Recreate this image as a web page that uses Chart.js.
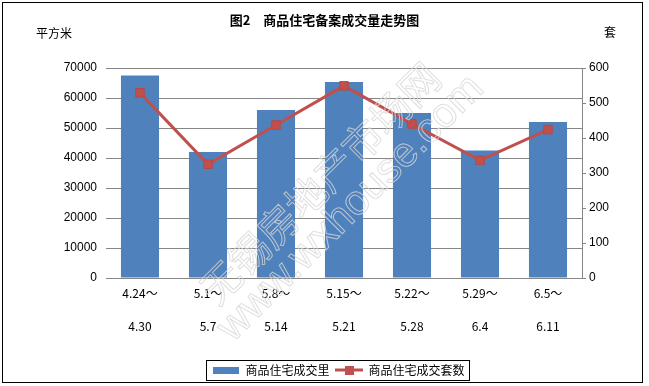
<!DOCTYPE html>
<html>
<head>
<meta charset="utf-8">
<script src="https://cdn.jsdelivr.net/npm/chart.js@4/dist/chart.umd.min.js"></script>
<style>
  html, body { margin: 0; padding: 0; background: #fff; }
  #chartBox { width: 649px; height: 386px; }
</style>
</head>
<body>
<div id="chartBox"><canvas id="trendChart" width="649" height="386"></canvas></div>
<script>
// 数据
const weekLabels = [
    ["4.24～", "4.30"],
    ["5.1～", "5.7"],
    ["5.8～", "5.14"],
    ["5.15～", "5.21"],
    ["5.22～", "5.28"],
    ["5.29～", "6.4"],
    ["6.5～", "6.11"]
];
const areaValues = [67500, 42000, 56000, 65300, 55000, 42500, 52000];   // 平方米
const unitValues = [529, 325, 437, 549, 440, 336, 424];                  // 套
const areaTicks = [0, 10000, 20000, 30000, 40000, 50000, 60000, 70000];
const unitTicks = [0, 100, 200, 300, 400, 500, 600];

const BLUE = '#4F81BD';
const RED = '#C0504D';
const GRID = '#868686';
const CJK = '"Noto Sans CJK SC", "Noto Sans", sans-serif';
const LATIN = '"Liberation Sans", Arial, sans-serif';

// 图例小图标
function makeBarIcon() {
    const c = document.createElement('canvas');
    c.width = 26; c.height = 7;
    const g = c.getContext('2d');
    g.fillStyle = BLUE;
    g.fillRect(0, 0, 26, 7);
    return c;
}
function makeLineIcon() {
    const c = document.createElement('canvas');
    c.width = 28; c.height = 9;
    const g = c.getContext('2d');
    g.fillStyle = RED;
    g.fillRect(0, 3, 28, 3);
    g.fillRect(10, 0, 9, 9);
    return c;
}

// 单位文字、图例边框、水印、外框
const decorPlugin = {
    id: 'decor',
    afterLayout(chart) {
        // 图例整体右移一点，和原图对齐
        const lg = chart.legend;
        lg.left += 14;
        lg.right += 14;
    },
    afterDraw(chart) {
        const ctx = chart.ctx;
        ctx.save();

        // 单位
        ctx.fillStyle = '#000';
        ctx.font = '12px ' + CJK;
        ctx.textBaseline = 'middle';
        ctx.textAlign = 'left';
        ctx.fillText('平方米', 36, 33);
        ctx.fillText('套', 604, 32);

        // 图例边框
        const boxes = chart.legend.legendHitBoxes;
        if (boxes && boxes.length) {
            const minX = Math.min(...boxes.map(b => b.left));
            const maxX = Math.max(...boxes.map(b => b.left + b.width));
            const midY = boxes[0].top + boxes[0].height / 2;
            ctx.strokeStyle = '#000';
            ctx.lineWidth = 1;
            ctx.strokeRect(Math.round(minX - 6) + 0.5, Math.round(midY - 10) + 0.5,
                Math.round(maxX - minX + 11), 20);
        }

        // 水印
        ctx.strokeStyle = 'rgba(215,215,215,0.8)';
        ctx.lineWidth = 1;
        ctx.textAlign = 'center';
        ctx.textBaseline = 'middle';
        ctx.translate(320, 183);
        ctx.rotate(-Math.PI / 4);
        ctx.font = '40px ' + CJK;
        ctx.strokeText('无锡房地产市场网', 0, 0);
        ctx.font = '42px ' + LATIN;
        ctx.strokeText('www.wxhouse.com', 4, 40);
        ctx.restore();

        // 外框
        ctx.save();
        ctx.strokeStyle = '#000';
        ctx.lineWidth = 1;
        ctx.strokeRect(2.5, 2.5, 640, 380);
        ctx.restore();
    }
};

const ctx = document.querySelector('#trendChart').getContext('2d');

new Chart(ctx, {
    data: {
        labels: weekLabels,
        datasets: [
            {
                type: 'bar',
                label: '商品住宅成交里',
                data: areaValues,
                yAxisID: 'y',
                backgroundColor: BLUE,
                borderWidth: 0,
                categoryPercentage: 1,
                barPercentage: 0.56,
                order: 1
            },
            {
                type: 'line',
                label: '商品住宅成交套数',
                data: unitValues,
                yAxisID: 'y1',
                borderColor: RED,
                borderWidth: 3,
                pointStyle: 'rect',
                pointRadius: 6,
                pointBackgroundColor: RED,
                pointBorderColor: '#B84744',
                pointBorderWidth: 1,
                tension: 0,
                order: 0
            }
        ]
    },
    options: {
        responsive: false,
        animation: false,
        layout: { padding: { top: 0, left: 0, right: 0, bottom: 0 } },
        plugins: {
            title: {
                display: true,
                text: '图2　商品住宅备案成交量走势图',
                color: '#000',
                font: { family: CJK, size: 13, weight: 'bold', lineHeight: 1.2 },
                padding: { top: 12, bottom: 40.4 }
            },
            legend: {
                display: true,
                position: 'bottom',
                labels: {
                    color: '#000',
                    font: { family: CJK, size: 12 },
                    usePointStyle: true,
                    padding: 6,
                    pointStyleWidth: 27,
                    generateLabels(chart) {
                        const icons = [makeBarIcon(), makeLineIcon()];
                        return chart.data.datasets.map((ds, i) => ({
                            text: ds.label,
                            datasetIndex: i,
                            pointStyle: icons[i],
                            fillStyle: i === 0 ? BLUE : RED,
                            strokeStyle: 'transparent',
                            lineWidth: 0,
                            fontColor: '#000',
                            hidden: false
                        }));
                    }
                }
            },
            tooltip: { enabled: false }
        },
        scales: {
            x: {
                grid: { display: false, drawTicks: false },
                border: { display: true, color: GRID },
                ticks: {
                    color: '#000',
                    padding: -1,
                    maxRotation: 0,
                    autoSkip: false,
                    font: { family: CJK, size: 12, lineHeight: '33px' }
                },
                afterFit(scale) { scale.height = 80; }
            },
            y: {
                position: 'left',
                min: 0,
                max: 70000,
                afterBuildTicks(scale) { scale.ticks = areaTicks.map(v => ({ value: v })); },
                grid: { color: GRID, drawTicks: false },
                border: { display: false },
                ticks: {
                    color: '#000',
                    padding: 9,
                    font: { family: LATIN, size: 12 },
                    callback: v => String(v)
                },
                afterFit(scale) { scale.width = 106; }
            },
            y1: {
                position: 'right',
                min: 0,
                max: 600,
                afterBuildTicks(scale) { scale.ticks = unitTicks.map(v => ({ value: v })); },
                grid: { drawOnChartArea: false, color: GRID, tickLength: 4 },
                border: { display: true, color: GRID },
                ticks: {
                    color: '#000',
                    padding: 3,
                    font: { family: LATIN, size: 12 },
                    callback: v => String(v)
                },
                afterFit(scale) { scale.width = 67; }
            }
        }
    },
    plugins: [decorPlugin]
});
</script>
</body>
</html>
